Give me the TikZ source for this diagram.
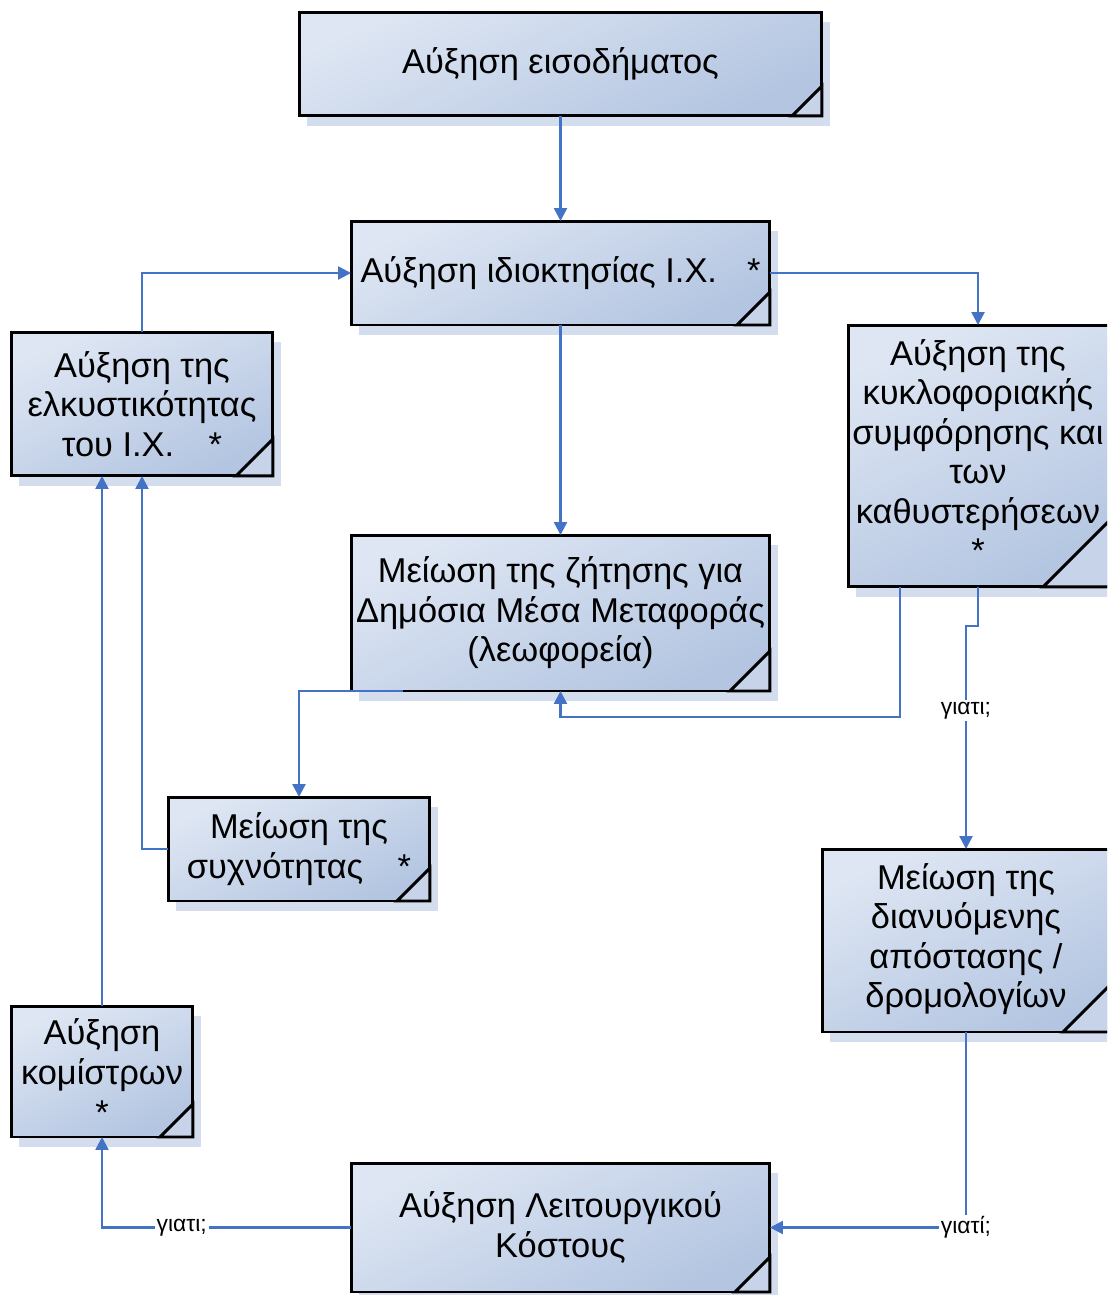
\documentclass[tikz,border=0pt]{standalone}
\usepackage{fontspec}
\setmainfont{Liberation Sans}
\usetikzlibrary{calc, arrows.meta, shadows}
\definecolor{boxtop}{HTML}{DEE6F3}
\definecolor{boxbottom}{HTML}{B3C5E1}
\definecolor{boxshadow}{HTML}{D3DDEE}
\definecolor{foldblue}{HTML}{C6D3E9}
\definecolor{linkblue}{HTML}{4472C4}
\tikzset{
    every node/.style={transform shape},
    cause/.style={draw=black, line width=1.7pt, outer sep=0pt, inner sep=2pt,
        top color=boxtop, bottom color=boxbottom, shading angle=25,
        align=center, font=\fontsize{19.6}{22.5}\selectfont,
        drop shadow={shadow xshift=0.16cm, shadow yshift=-0.2cm,
            fill=boxshadow, opacity=1}},
    fold/.style={draw=black, line width=1.7pt, fill=foldblue, line join=miter},
    link/.style={draw=linkblue, line width=1.4pt,
        -{Triangle[length=0.26cm, width=0.26cm]}},
    why/.style={fill=white, inner sep=1pt, font=\fontsize{13}{15}\selectfont},
}

\begin{document}
\begin{tikzpicture}[x=0.02cm, y=-0.02cm]
    \useasboundingbox (0, 0) rectangle (1107, 1295);
    \clip (0, 0) rectangle (1107, 1295);
    \node[cause, minimum width=10.46cm, minimum height=2.08cm] (income)
        at (560.5, 64) {Αύξηση εισοδήματος}; % Top box
    \node[cause, minimum width=8.38cm, minimum height=2.08cm] (ownership)
        at (560.5, 273) {Αύξηση ιδιοκτησίας Ι.Χ.\hspace{0.6cm}*}; % Car ownership
    \node[cause, minimum width=5.24cm, minimum height=2.88cm] (attract)
        at (142, 404) {Αύξηση της\\ελκυστικότητας\\του Ι.Χ.\quad *};
    \node[cause, minimum width=5.6cm, minimum height=5.24cm, anchor=west]
        (congestion) at (848, 456) {\begin{tabular}{@{}c@{}}Αύξηση της\\
        κυκλοφοριακής\\συμφόρησης και\\των\\καθυστερήσεων\\{*}\end{tabular}%
        \hspace{0.4cm}}; % Runs off the right edge
    \node[cause, minimum width=8.38cm, minimum height=3.12cm] (demand)
        at (560.5, 613) {Μείωση της ζήτησης για\\Δημόσια Μέσα Μεταφοράς\\
        (λεωφορεία)};
    \node[cause, minimum width=5.24cm, minimum height=2.08cm] (frequency)
        at (299, 849) {Μείωση της\\συχνότητας\quad *};
    \node[cause, minimum width=5.96cm, minimum height=3.66cm, anchor=west]
        (distance) at (822, 940.5) {\begin{tabular}{@{}c@{}}Μείωση της\\
        διανυόμενης\\απόστασης /\\δρομολογίων\end{tabular}\hspace{0.2cm}};
    \node[cause, minimum width=3.64cm, minimum height=2.62cm] (fares)
        at (102, 1071.5) {Αύξηση\\κομίστρων\\*};
    \node[cause, minimum width=8.38cm, minimum height=2.58cm] (cost)
        at (560.5, 1227.5) {Αύξηση Λειτουργικού\\Κόστους};
    \foreach \n/\c in {income/30, ownership/33, attract/37, congestion/85,
        demand/40, frequency/33, distance/57, fares/33, cost/35}{
        \filldraw[fold] ($(\n.south east)+(-\c, 0)$) -- ($(\n.south east)+(0, -\c)$)
            -- (\n.south east) -- cycle; % Folded corner
    }
    \coordinate (jam) at (900, 717);
    \coordinate (jamtop) at ($(congestion.north west)+(130, 0)$);
    \coordinate (jamfoot) at ($(congestion.south west)+(130, 0)$);
    \coordinate (disttop) at ($(distance.north west)+(144, 0)$);
    \coordinate (distfoot) at ($(distance.south west)+(144, 0)$);
    \draw[link] (income.south) -- (ownership.north);
    \draw[link] (ownership.east) -| (jamtop);
    \draw[link] (ownership.south) -- (demand.north);
    \draw[link] (attract.north) |- (ownership.west);
    \draw[link] (congestion.south -| jam) -- (jam) -| (demand.south);
    \draw[link] (jamfoot) -- ++(0, 39) -| node[why, pos=0.69] {γιατι;}
        (disttop);
    \draw[link] ($(demand.south west)+(52, 0)$) -| (frequency.north);
    \draw[link] (frequency.west) -| (attract.south);
    \draw[link] (fares.north) -- (fares.north |- attract.south);
    \draw[link] (distfoot) |- node[why, pos=0.5] {γιατί;} (cost.east);
    \draw[link] (cost.west) -| node[why, pos=0.34] {γιατι;} (fares.south);
\end{tikzpicture}
\end{document}
